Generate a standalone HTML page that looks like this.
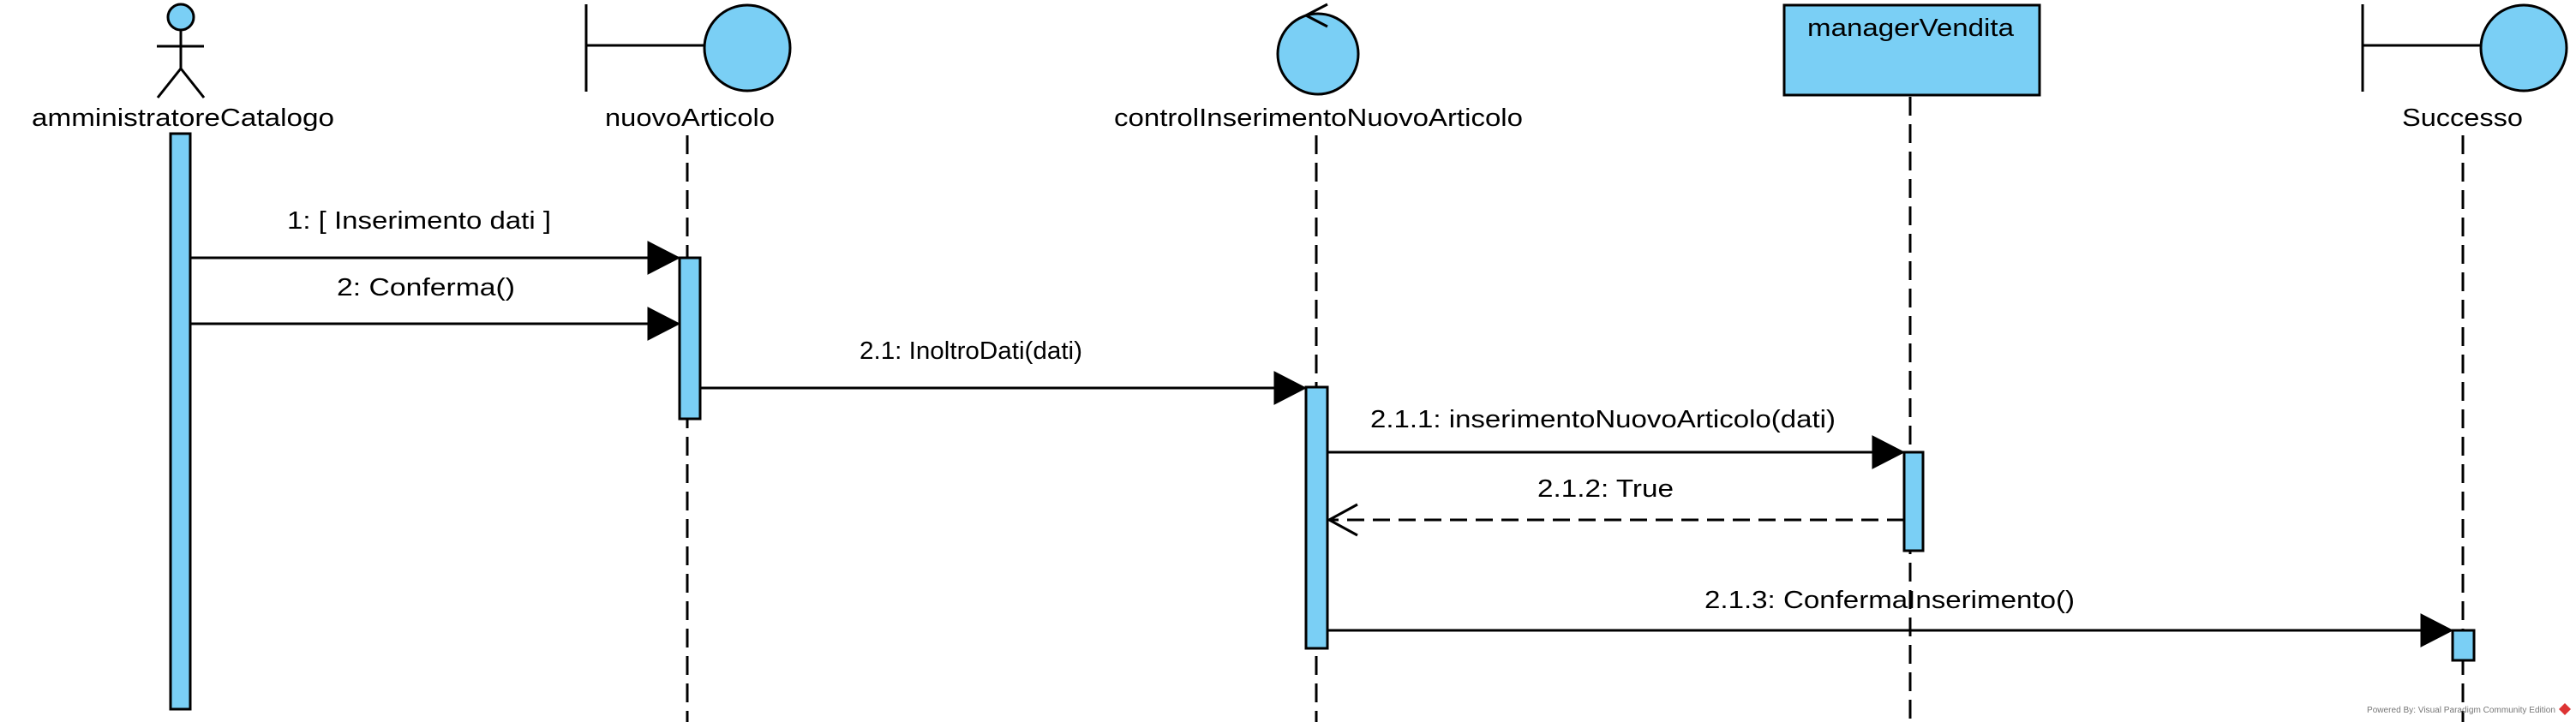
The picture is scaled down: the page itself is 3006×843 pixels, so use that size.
<!DOCTYPE html>
<html><head><meta charset="utf-8"><style>
html,body{margin:0;padding:0;background:#fff;}
svg{display:block;}
text{font-family:"Liberation Sans",Arial,sans-serif;font-size:29px;fill:#000;}
</style></head><body>
<svg width="3006" height="843" viewBox="0 0 3006 843" xmlns="http://www.w3.org/2000/svg">
<g stroke="#000" stroke-width="3" fill="#7acff5">
<!-- actor -->
<circle cx="211" cy="20" r="15"/>
<line x1="211" y1="35" x2="211" y2="80"/>
<line x1="183" y1="54" x2="238" y2="54"/>
<line x1="211" y1="80" x2="184" y2="114"/>
<line x1="211" y1="80" x2="238" y2="114"/>
<!-- nuovoArticolo boundary -->
<line x1="684" y1="5" x2="684" y2="107"/>
<line x1="684" y1="53" x2="822" y2="53"/>
<circle cx="872" cy="56" r="50"/>
<!-- control -->
<circle cx="1538" cy="63" r="47"/>
<polyline points="1549,5 1524,18 1549,31" fill="none"/>
<!-- managerVendita -->
<rect x="2082" y="6" width="298" height="105"/>
<!-- Successo boundary -->
<line x1="2757" y1="5" x2="2757" y2="107"/>
<line x1="2757" y1="53" x2="2895" y2="53"/>
<circle cx="2945" cy="56" r="50"/>
</g>
<!-- lifelines -->
<g stroke="#000" stroke-width="3" stroke-dasharray="22,10" fill="none">
<line x1="802" y1="158" x2="802" y2="843"/>
<line x1="1536" y1="158" x2="1536" y2="843"/>
<line x1="2229" y1="113" x2="2229" y2="843"/>
<line x1="2874" y1="158" x2="2874" y2="843"/>
</g>
<!-- activations -->
<g stroke="#000" stroke-width="3" fill="#7acff5">
<rect x="199" y="156" width="23" height="672"/>
<rect x="793" y="301" width="24" height="188"/>
<rect x="1524" y="452" width="25" height="305"/>
<rect x="2222" y="528" width="22" height="115"/>
<rect x="2862" y="736" width="25" height="35"/>
</g>
<!-- messages -->
<g stroke="#000" stroke-width="3" fill="#000">
<line x1="222" y1="301" x2="760" y2="301"/>
<polygon points="756,282 793,301 756,320" stroke-width="1"/>
<line x1="222" y1="378" x2="760" y2="378"/>
<polygon points="756,359 793,378 756,397" stroke-width="1"/>
<line x1="817" y1="453" x2="1490" y2="453"/>
<polygon points="1487,434 1524,453 1487,472" stroke-width="1"/>
<line x1="1549" y1="528" x2="2190" y2="528"/>
<polygon points="2185,509 2222,528 2185,547" stroke-width="1"/>
<line x1="2222" y1="607" x2="1551" y2="607" stroke-dasharray="20,10"/>
<polyline points="1584,589 1551,607 1584,625" fill="none"/>
<line x1="1549" y1="736" x2="2830" y2="736"/>
<polygon points="2825,717 2862,736 2825,755" stroke-width="1"/>
</g>
<!-- labels -->
<text x="37" y="147" textLength="353" lengthAdjust="spacingAndGlyphs">amministratoreCatalogo</text>
<text x="706" y="147" textLength="198" lengthAdjust="spacingAndGlyphs">nuovoArticolo</text>
<text x="1300" y="147" textLength="477" lengthAdjust="spacingAndGlyphs">controlInserimentoNuovoArticolo</text>
<text x="2109" y="42" textLength="241" lengthAdjust="spacingAndGlyphs">managerVendita</text>
<text x="2803" y="147" textLength="141" lengthAdjust="spacingAndGlyphs">Successo</text>
<text x="335" y="267" textLength="308" lengthAdjust="spacingAndGlyphs">1: [ Inserimento dati ]</text>
<text x="393" y="345" textLength="208" lengthAdjust="spacingAndGlyphs">2: Conferma()</text>
<text x="1003" y="419" textLength="260" lengthAdjust="spacingAndGlyphs">2.1: InoltroDati(dati)</text>
<text x="1599" y="499" textLength="543" lengthAdjust="spacingAndGlyphs">2.1.1: inserimentoNuovoArticolo(dati)</text>
<text x="1794" y="580" textLength="159" lengthAdjust="spacingAndGlyphs">2.1.2: True</text>
<text x="1989" y="710" textLength="432" lengthAdjust="spacingAndGlyphs">2.1.3: ConfermaInserimento()</text>
<text x="2762" y="832" style="font-size:10px;fill:#777" textLength="220" lengthAdjust="spacingAndGlyphs">Powered By: Visual Paradigm Community Edition</text>
<polygon points="2993,821 3000,828 2993,835 2986,828" fill="#d33"/>
</svg>
</body></html>
